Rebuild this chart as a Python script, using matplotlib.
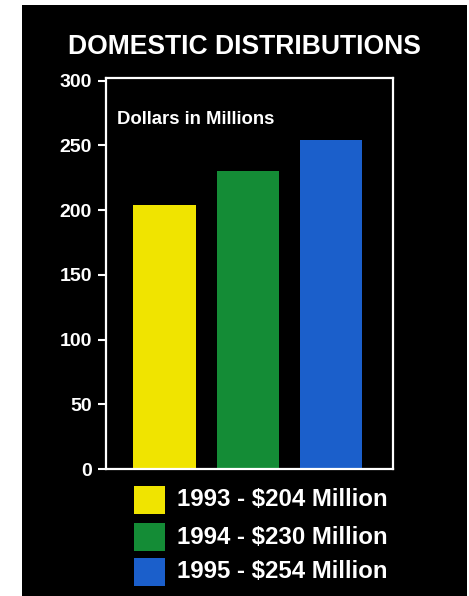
import matplotlib
matplotlib.use("Agg")
import matplotlib.pyplot as plt
from matplotlib.patches import Rectangle

# Data
years = ["1993", "1994", "1995"]
values = [204, 230, 254]
colors = ["#F0E400", "#148C36", "#1B5FCB"]
yticks = [0, 50, 100, 150, 200, 250, 300]

W, H = 469, 596
fig = plt.figure(figsize=(W / 100, H / 100), dpi=100)
fig.patch.set_facecolor("white")

def fx(px):
    return px / W

def fy(py):
    return 1 - py / H

# Black panel behind everything
fig.patches.append(Rectangle((fx(22), 0), fx(467) - fx(22), fy(5), transform=fig.transFigure,
                             facecolor="black", edgecolor="none", zorder=-5))

ax = fig.add_axes([fx(106), fy(469), fx(393) - fx(106), fy(78) - fy(469)], zorder=2)
ax.set_facecolor("black")
x = range(len(values))
ax.bar(x, values, width=0.75, color=colors, zorder=2)
ax.set_xlim(-0.705, 2.747)
ax.set_ylim(0, 302)
ax.set_yticks(yticks)
ax.set_yticklabels([str(t) for t in yticks], fontsize=14, fontweight="bold",
                   color="white", family="Liberation Sans")
ax.set_xticks([])
ax.tick_params(axis="y", colors="white", length=6, width=1.5, pad=4)
for s in ax.spines.values():
    s.set_color("white")
    s.set_linewidth(1.6)

ax.text(0.04, 0.893, "Dollars in Millions", transform=ax.transAxes, ha="left", va="center",
        fontsize=13.3, fontweight="bold", color="white", family="Liberation Sans", zorder=3)

fig.text(fx(244), fy(47), "DOMESTIC DISTRIBUTIONS", ha="center", va="center",
         fontsize=19.1, fontweight="bold", color="white", family="Liberation Sans")

# Legend
leg_y = [500, 537, 572]
for yr, v, c, yc in zip(years, values, colors, leg_y):
    fig.patches.append(Rectangle((fx(134), fy(yc + 14)), fx(165) - fx(134), fy(yc - 14) - fy(yc + 14),
                                 transform=fig.transFigure, facecolor=c, edgecolor="none"))
    fig.text(fx(177), fy(yc), f"{yr} - ${v} Million", ha="left", va="center",
             fontsize=17.3, fontweight="bold", color="white", family="Liberation Sans")

fig.savefig("out.png", dpi=100, facecolor=fig.get_facecolor())
